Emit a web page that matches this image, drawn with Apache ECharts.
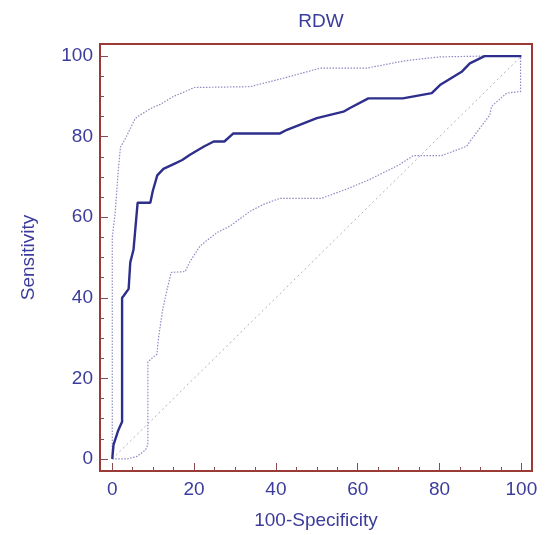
<!DOCTYPE html>
<html>
<head>
<meta charset="utf-8">
<script src="https://cdn.jsdelivr.net/npm/echarts@6/dist/echarts.min.js"></script>
<style>
html,body{margin:0;padding:0;background:#fff;}
#chart{width:549px;height:535px;}
</style>
</head>
<body>
<div id="chart"></div>
<script>
// ROC curve (solid)
const rocX = [0,0.3,1.5,2.4,2.4,2.8,4,4.4,5.2,6.2,9.3,9.9,11,12.5,15,17.1,19,22.3,24.8,27.4,29.6,41,42.7,50,56.5,58.1,62.6,71,78.1,80.1,85.4,87.4,91,100];
const rocY = [0,3.5,7.2,9.2,40,40.5,42.2,48.8,52,63.6,63.6,66.5,70.4,72,73.2,74.2,75.5,77.5,78.8,78.8,80.8,80.8,81.7,84.6,86.2,87.1,89.5,89.5,90.8,92.8,96.1,98.2,100,100];
// Upper confidence bound (dotted)
const upperX = [0,0,0.7,1.5,2,3.2,5.6,6.8,10,11.7,15,19,20,33.7,41.8,50.8,62.2,70.3,72.8,80.1,90.7,100];
const upperY = [0,55,61,72,77.4,79.5,84.5,85.4,87.3,88,90,91.7,92.2,92.4,94.5,97,97,98.6,99,99.8,100,100];
// Lower confidence bound (dotted)
const lowerX = [0,3.6,6,8.1,8.7,8.7,10.9,11.3,12.3,13.5,14.4,17.8,19,21.5,25.6,28.8,33.7,37,41,51.2,58.1,63,70.3,73.6,80.5,86.6,87.4,92.3,92.7,96.4,99.8,99.8];
const lowerY = [0,0,0.6,2.2,3.5,24.1,26,30,37,42.5,46.3,46.5,49,52.9,56.2,57.8,61.5,63.2,64.7,64.7,67.3,69.4,73.1,75.3,75.3,77.6,78.8,85.4,87.5,90.8,91.2,100];
// Reference diagonal
const diagX = [0,100];
const diagY = [0,100];
// Tick values
const majorTicks = [0,20,40,60,80,100];
const minorTicks = [0,5,10,15,20,25,30,35,40,45,50,55,60,65,70,75,80,85,90,95,100];

const zip = (xs, ys) => xs.map((x, i) => [x, ys[i]]);

const boxColor = '#9c3b36';
const textColor = '#3c3c9c';
const font = 'Liberation Sans, Arial, sans-serif';

function mainAxis(isX) {
  return {
    type: 'value',
    min: -3,
    max: isX ? 102.6 : 103,
    position: isX ? 'bottom' : 'left',
    name: isX ? '100-Specificity' : 'Sensitivity',
    nameLocation: 'middle',
    nameGap: isX ? 40 : 62,
    nameTextStyle: {color: textColor, fontSize: 19, fontFamily: font},
    axisLine: {show: true, onZero: false, lineStyle: {color: boxColor, width: 2}},
    axisTick: {show: true, inside: true, length: 8, customValues: majorTicks,
               lineStyle: {color: '#8a4a50', width: 1}},
    axisLabel: {show: true, customValues: majorTicks, color: textColor, fontSize: 19,
                fontFamily: font, margin: isX ? 9 : 7},
    splitLine: {show: false}
  };
}
function minorAxis(isX) {
  return {
    type: 'value',
    min: -3,
    max: isX ? 102.6 : 103,
    position: isX ? 'bottom' : 'left',
    axisLine: {show: false, onZero: false},
    axisTick: {show: true, inside: true, length: 4, customValues: minorTicks,
               lineStyle: {color: '#8a4a50', width: 1}},
    axisLabel: {show: false},
    splitLine: {show: false}
  };
}

const chart = echarts.init(document.getElementById('chart'), null, {renderer: 'canvas'});
chart.setOption({
  animation: false,
  backgroundColor: '#ffffff',
  title: {
    text: 'RDW',
    left: 316,
    textAlign: 'center',
    top: 7,
    textStyle: {color: textColor, fontSize: 19, fontWeight: 'normal', fontFamily: font}
  },
  grid: {
    left: 100, right: 17, top: 44, bottom: 63,
    show: true, borderColor: boxColor, borderWidth: 2, backgroundColor: 'transparent'
  },
  xAxis: [mainAxis(true), minorAxis(true)],
  yAxis: [mainAxis(false), minorAxis(false)],
  series: [
    {
      type: 'line', xAxisIndex: 0, yAxisIndex: 0,
      data: zip(diagX, diagY), showSymbol: false, silent: true,
      lineStyle: {color: '#b0b0c0', width: 1, type: [2, 3]}
    },
    {
      type: 'line', xAxisIndex: 0, yAxisIndex: 0,
      data: zip(lowerX, lowerY), showSymbol: false, silent: true,
      lineStyle: {color: '#8c8cc4', width: 1.2, type: [1.5, 1.5]}
    },
    {
      type: 'line', xAxisIndex: 0, yAxisIndex: 0,
      data: zip(upperX, upperY), showSymbol: false, silent: true,
      lineStyle: {color: '#8c8cc4', width: 1.2, type: [1.5, 1.5]}
    },
    {
      type: 'line', xAxisIndex: 0, yAxisIndex: 0,
      data: zip(rocX, rocY), showSymbol: false, silent: true,
      lineStyle: {color: '#2e2e8c', width: 2.4, type: 'solid'}
    }
  ]
});
</script>
</body>
</html>
